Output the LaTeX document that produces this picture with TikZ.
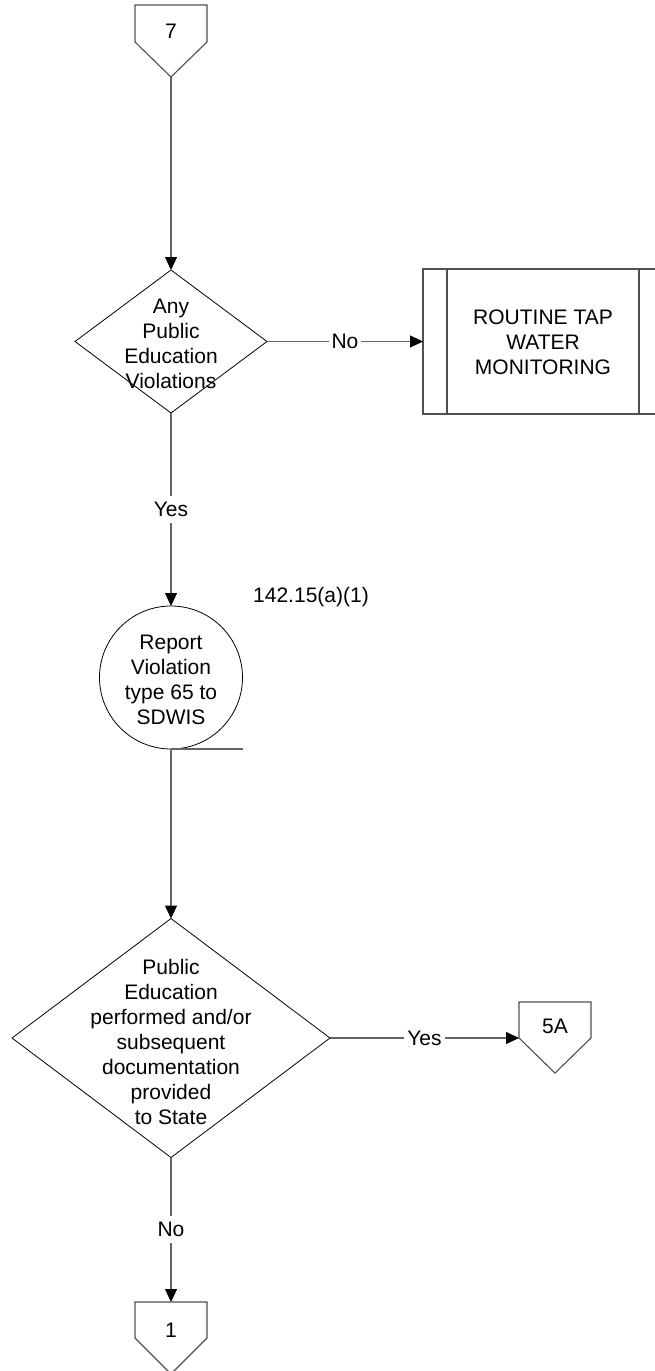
\documentclass[tikz,border=0pt]{standalone}
\usepackage{fontspec}
\setmainfont{Liberation Sans}
\usetikzlibrary{shapes.geometric,arrows.meta}
\definecolor{lncol}{RGB}{100,100,100}
\definecolor{offcol}{RGB}{80,80,80}
\begin{document}
\begin{tikzpicture}[x=1pt,y=-1pt,
 ln/.style={draw=lncol, line width=1.1pt},
 arr/.style={ln, -{Triangle[length=13pt,width=12pt,color=black]}},
 shp/.style={draw=black, line width=0.8pt, fill=white, inner sep=0pt, outer sep=0pt},
 txt/.style={font=\fontsize{21}{25}\selectfont, align=center, inner sep=0pt},
 lbl/.style={font=\fontsize{21}{25}\selectfont, fill=white, inner xsep=3pt, inner ysep=6pt},
 off/.style={draw=offcol, line width=1.1pt, fill=white}]
\useasboundingbox (0,0) rectangle (655,1371);
\clip (0,0) rectangle (655,1371);

% off-page connector 7
\draw[off] (135,5) -- (207,5) -- (207,42) -- (171,77) -- (135,42) -- cycle;
\coordinate (c7) at (171,77);
\node[txt] (c7t) at (171,31) {7};

% decision 1
\node[shp, diamond, minimum width=192pt, minimum height=143pt] (d1) at (171,341.5) {};
\node[txt] (d1t) at (171,344) {Any\\Public\\Education\\Violations};

% predefined process box
\node[draw=offcol, line width=1.1pt, minimum width=240pt, minimum height=145pt, inner sep=0pt, outer sep=0pt] (box) at (543,341.5) {};
\draw[draw=offcol, line width=1.1pt] ([xshift=24pt]box.north west) -- ([xshift=24pt]box.south west);
\draw[draw=offcol, line width=1.1pt] ([xshift=-24pt]box.north east) -- ([xshift=-24pt]box.south east);
\node[txt] (boxt) at (543,342) {ROUTINE TAP\\WATER\\MONITORING};

% report circle
\node[shp, circle, minimum size=143pt] (rep) at (171,677.5) {};
\node[txt] (rept) at (171,679.5) {Report\\Violation\\type 65 to\\SDWIS};
\node[txt] (ref) at (311,597) {142.15(a)(1)};
\draw[ln] (rep.south) -- ++(72,0) coordinate (tail);

% decision 2
\node[shp, diamond, minimum width=318pt, minimum height=239pt] (d2) at (171,1038) {};
\node[txt] (d2t) at (171,1041.5) {Public\\Education\\performed and/or\\subsequent\\documentation\\provided\\to State};

% off-page connector 5A
\draw[off] (519,1002) -- (591,1002) -- (591,1038) -- (555,1073) -- (519,1038) -- cycle;
\coordinate (c5a) at (519,1038);
\node[txt] (c5at) at (555,1026) {5A};

% off-page connector 1
\draw[off] (135,1302) -- (207,1302) -- (207,1338) -- (171,1374) -- (135,1338) -- cycle;
\coordinate (c1) at (171,1302);
\node[txt] (c1t) at (171,1330) {1};

% connectors
\draw[arr] (c7) -- (d1.north);
\draw[arr] (d1.east) -- node[lbl]{No} (box.west);
\draw[arr] (d1.south) -- node[lbl]{Yes} (rep.north);
\draw[arr] (rep.south) -- (d2.north);
\draw[arr] (d2.east) -- node[lbl]{Yes} (c5a);
\draw[arr] (d2.south) -- node[lbl]{No} (c1);
\end{tikzpicture}
\end{document}
